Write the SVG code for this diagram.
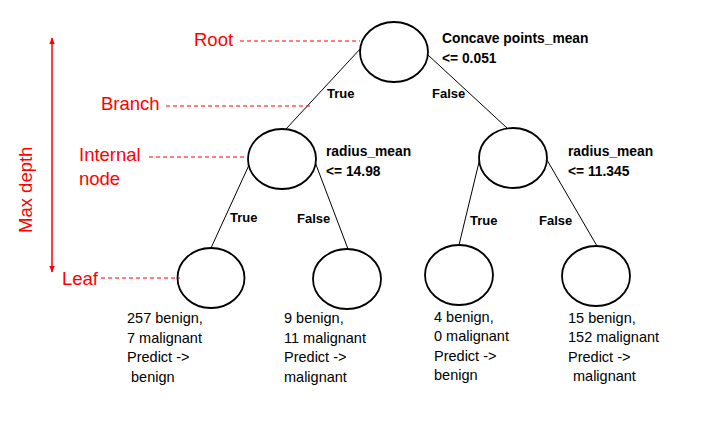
<svg xmlns="http://www.w3.org/2000/svg" width="717" height="421" viewBox="0 0 717 421">
<defs>
<style>
.node{fill:#fff;stroke:#000;stroke-width:1.8}
.edge{stroke:#000;stroke-width:1;fill:none}
.cond{font-family:"Liberation Sans",Arial,sans-serif;font-weight:bold;font-size:13.8px;fill:#000}
.tf{font-family:"Liberation Sans",Arial,sans-serif;font-weight:bold;font-size:13px;fill:#000}
.leaf{font-family:"Liberation Sans",Arial,sans-serif;font-size:14.5px;fill:#000}
.red{font-family:"Liberation Sans",Arial,sans-serif;font-size:18.5px;fill:#f00}
.dash{stroke:#f00;stroke-width:1.2;stroke-dasharray:4 3;fill:none}
</style>
<marker id="ah" viewBox="0 0 10 10" refX="9" refY="5" markerWidth="7" markerHeight="7" orient="auto-start-reverse" markerUnits="userSpaceOnUse">
<path d="M0,1 L10,5 L0,9 Z" fill="#f00"/>
</marker>
</defs>
<rect width="717" height="421" fill="#fff"/>
<g id="connectors">
<line class="edge" x1="361" y1="48" x2="286" y2="129"/>
<line class="edge" x1="428" y1="55" x2="507" y2="128"/>
<line class="edge" x1="249" y1="165" x2="211" y2="248"/>
<line class="edge" x1="315" y1="162" x2="348" y2="249"/>
<line class="edge" x1="480" y1="158" x2="459" y2="245"/>
<line class="edge" x1="547" y1="160" x2="597" y2="246"/>
<text class="tf" x="327" y="98">True</text>
<text class="tf" x="432" y="98">False</text>
<text class="tf" x="230" y="222">True</text>
<text class="tf" x="297" y="223">False</text>
<text class="tf" x="470" y="225">True</text>
<text class="tf" x="539" y="225">False</text>
</g>
<g id="root">
<ellipse class="node" cx="394" cy="52" rx="34" ry="30"/>
<text class="cond" x="442" y="43">Concave points_mean</text>
<text class="cond" x="442" y="63">&lt;= 0.051</text>
</g>
<g id="internal-left">
<ellipse class="node" cx="282" cy="159" rx="34" ry="30"/>
<text class="cond" x="326" y="156">radius_mean</text>
<text class="cond" x="326" y="176">&lt;= 14.98</text>
</g>
<g id="internal-right">
<ellipse class="node" cx="513" cy="158" rx="34" ry="30"/>
<text class="cond" x="568" y="156">radius_mean</text>
<text class="cond" x="568" y="176">&lt;= 11.345</text>
</g>
<g id="leaf1">
<ellipse class="node" cx="211" cy="278" rx="33.5" ry="30"/>
<text class="leaf" x="127" y="323">257 benign,</text>
<text class="leaf" x="127" y="343">7 malignant</text>
<text class="leaf" x="127" y="362">Predict -&gt;</text>
<text class="leaf" x="131" y="382">benign</text>
</g>
<g id="leaf2">
<ellipse class="node" cx="347" cy="279" rx="34" ry="30"/>
<text class="leaf" x="284" y="323">9 benign,</text>
<text class="leaf" x="284" y="343">11 malignant</text>
<text class="leaf" x="284" y="362">Predict -&gt;</text>
<text class="leaf" x="284" y="382">malignant</text>
</g>
<g id="leaf3">
<ellipse class="node" cx="459" cy="275" rx="34" ry="30"/>
<text class="leaf" x="434" y="322">4 benign,</text>
<text class="leaf" x="434" y="341">0 malignant</text>
<text class="leaf" x="434" y="361">Predict -&gt;</text>
<text class="leaf" x="434" y="380">benign</text>
</g>
<g id="leaf4">
<ellipse class="node" cx="596" cy="276" rx="34" ry="30"/>
<text class="leaf" x="568" y="323">15 benign,</text>
<text class="leaf" x="568" y="342">152 malignant</text>
<text class="leaf" x="568" y="362">Predict -&gt;</text>
<text class="leaf" x="573" y="381">malignant</text>
</g>
<g id="annotations">
<text class="red" x="194" y="46">Root</text>
<line class="dash" x1="240" y1="41" x2="360" y2="41"/>
<text class="red" x="101" y="110">Branch</text>
<line class="dash" x1="166" y1="106" x2="310" y2="106"/>
<text class="red" x="79" y="161">Internal</text>
<text class="red" x="79" y="185">node</text>
<line class="dash" x1="149" y1="157" x2="248" y2="157"/>
<text class="red" x="62" y="285">Leaf</text>
<line class="dash" x1="101" y1="278" x2="180" y2="278"/>
<line x1="52" y1="272" x2="52" y2="38" stroke="#f00" stroke-width="1.5" marker-start="url(#ah)" marker-end="url(#ah)"/>
<text class="red" transform="translate(32,233) rotate(-90)" x="0" y="0">Max depth</text>
</g>
</svg>
